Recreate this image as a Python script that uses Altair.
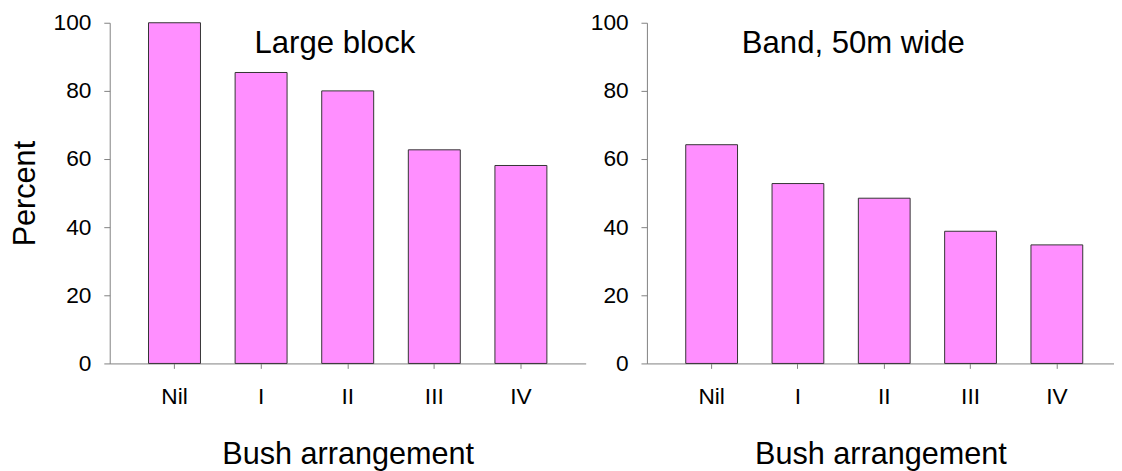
import altair as alt
import pandas as pd

categories = ["Nil", "I", "II", "III", "IV"]
large_block = [100.0, 85.4, 80.0, 62.7, 58.1]
band_50m = [64.2, 52.8, 48.5, 38.8, 34.8]
y_ticks = [0, 20, 40, 60, 80, 100]
panel_titles = ["Large block", "Band, 50m wide"]
x_title = "Bush arrangement"
y_title = "Percent"

FONT = "Liberation Sans"
BAR_FILL = "#FF8FFF"
BAR_STROKE = "#333333"
AXIS_GRAY = "#808080"


def panel(values, title, width, pad_outer, align, with_y_title, title_x):
    df = pd.DataFrame({"arr": categories, "pct": values})
    y_axis = alt.Axis(
        values=y_ticks,
        title=y_title if with_y_title else None,
        tickSize=6,
        labelPadding=13,
        minExtent=58,
        maxExtent=58,
        titlePadding=11,
    )
    bars = alt.Chart(df).mark_bar(
        fill=BAR_FILL, stroke=BAR_STROKE, strokeWidth=1
    ).encode(
        x=alt.X(
            "arr:N",
            sort=categories,
            scale=alt.Scale(paddingInner=0.4, paddingOuter=pad_outer, align=align),
            axis=alt.Axis(
                title=x_title,
                labelAngle=0,
                tickSize=5,
                labelPadding=18,
                minExtent=46,
                maxExtent=46,
                titlePadding=31,
            ),
        ),
        y=alt.Y(
            "pct:Q",
            scale=alt.Scale(domain=[0, 100], nice=False, zero=True),
            axis=y_axis,
        ),
    )
    label = alt.Chart(pd.DataFrame({"t": [title]})).mark_text(
        font=FONT, fontSize=31.5, color="black", baseline="alphabetic", align="center"
    ).encode(
        x=alt.value(title_x),
        y=alt.value(31),
        text="t:N",
    )
    return alt.layer(bars, label).properties(width=width, height=345)


left = panel(large_block, panel_titles[0], 482, 0.448, 0.5, True, 228)
right = panel(band_50m, panel_titles[1], 473, 0.406, 0.554, False, 209)

chart = alt.hconcat(left, right, spacing=4).properties(
    padding={"left": 2, "top": 1, "right": 0, "bottom": 0}
).configure_view(
    stroke=None
).configure_axis(
    grid=False,
    domainColor=AXIS_GRAY,
    tickColor=AXIS_GRAY,
    domainWidth=1,
    tickWidth=1,
    labelFont=FONT,
    labelFontSize=23,
    labelColor="black",
    titleFont=FONT,
    titleFontSize=31,
    titleFontWeight="normal",
    titleColor="black",
)

chart.save("out.html", embed_options={"renderer": "svg", "actions": False})
